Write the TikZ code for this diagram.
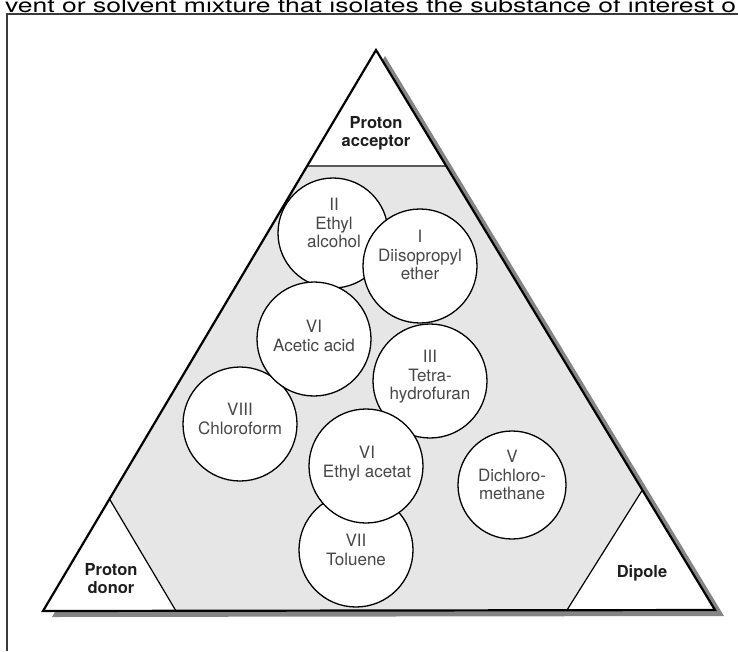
\documentclass[tikz,border=0pt]{standalone}
\usepackage{graphicx}
\usepackage{fontspec}
\setmainfont{TeX Gyre Heros}
\usetikzlibrary{calc}
\definecolor{shadowgray}{HTML}{858585}
\definecolor{regiongray}{HTML}{E6E6E6}
\definecolor{txtgray}{HTML}{474747}
\definecolor{framegray}{HTML}{3A3A3A}
\definecolor{labelblack}{HTML}{1E1E1E}
\begin{document}
\begin{tikzpicture}[x=1pt,y=-1pt,
  solvent/.style={circle, draw=black, line width=1.3pt, fill=white, inner sep=0pt},
  ctext/.style={font=\fontsize{17}{18.5}\selectfont, text=txtgray, align=center, inner sep=0pt, anchor=north},
  cornerlabel/.style={font=\bfseries\fontsize{16.5}{18.5}\selectfont, text=labelblack, align=center, inner sep=0pt, anchor=north},
  cutline/.style={line width=1.2pt, black},
  edge/.style={line width=2.2pt, black, line join=miter}]
\useasboundingbox (0,0) rectangle (738,651);
\clip (0,0) rectangle (738,651);

% frame and clipped running text
\coordinate (fbl) at (7,651);
\coordinate (ftl) at (7,14);
\coordinate (ftr) at (738,14);
\node[anchor=base west, inner sep=0pt] (toptext) at (5,12.5)
  {\resizebox{731pt}{14.5pt}{vent or solvent mixture that isolates the substance of interest o}};
\draw[framegray, line width=1.6pt] (fbl) -- (ftl) -- (ftr);

% triangle corners
\coordinate (A) at (376,50);
\coordinate (L) at (43,611);
\coordinate (R) at (715,610);

% shadow
\fill[shadowgray] ($(A)+(9,6)$) -- ($(L)+(9,6)$) -- ($(R)+(9,6)$) -- cycle;
\fill[white] (A) -- (L) -- (R) -- cycle;

% cut points
\coordinate (accL) at ($(A)!0.2068!(L)$);
\coordinate (accR) at ($(A)!0.2071!(R)$);
\coordinate (donT) at ($(A)!0.8003!(L)$);
\coordinate (donB) at (176,611);
\coordinate (dipT) at ($(A)!0.7857!(R)$);
\coordinate (dipB) at (567,610);

\fill[regiongray] (accL) -- (accR) -- (dipT) -- (dipB) -- (donB) -- (donT) -- cycle;
\draw[line width=1.8pt, black!65] (accL) -- (accR);
\draw[cutline] (donT) -- (donB);
\draw[cutline] (dipT) -- (dipB);

% solvent circles
\node[solvent, minimum size=110pt] (etoh) at (333,233) {};
\node[solvent, minimum size=114pt] (dipe) at (420,266) {};
\node[solvent, minimum size=114pt] (chcl) at (240,424) {};
\node[solvent, minimum size=114pt] (acoh) at (314,339) {};
\node[solvent, minimum size=114pt] (thf) at (430,381) {};
\node[solvent, minimum size=114pt] (tol) at (356,550) {};
\node[solvent, minimum size=114pt] (etac) at (366,466) {};
\node[solvent, minimum size=108pt] (dcm) at (512,485) {};

\node[ctext] (etohT) at (334,198) {II\\Ethyl\\alcohol};
\node[ctext] (dipeT) at (420,230) {I\\Diisopropyl\\ether};
\node[ctext] (acohT) at (314,320) {VI\\Acetic acid};
\node[ctext] (thfT) at (430,350) {III\\Tetra-\\hydrofuran};
\node[ctext] (chclT) at (240,403) {VIII\\Chloroform};
\node[ctext] (etacT) at (367,446) {VI\\Ethyl acetat};
\node[ctext] (tolT) at (356,534) {VII\\Toluene};
\node[ctext] (dcmT) at (512,450) {V\\Dichloro-\\methane};

% triangle outline
\draw[edge] (A) -- (L) -- (R) -- cycle;

% corner labels
\node[cornerlabel] (acc) at (376,116) {Proton\\acceptor};
\node[cornerlabel] (don) at (111,563) {Proton\\donor};
\node[cornerlabel] (dip) at (642,565) {Dipole};
\end{tikzpicture}
\end{document}
